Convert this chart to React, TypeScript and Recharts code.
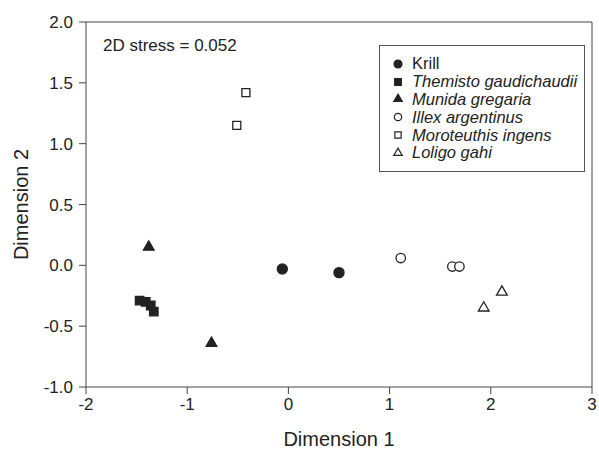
import { ScatterChart, Scatter, XAxis, YAxis, ReferenceLine, Legend, Label, Symbols, Customized } from 'recharts'

// MDS ordination
const krillX = [-0.06, 0.5]
const krillY = [-0.03, -0.06]
const themistoX = [-1.47, -1.41, -1.36, -1.33]
const themistoY = [-0.29, -0.3, -0.33, -0.38]
const munidaX = [-1.38, -0.76]
const munidaY = [0.15, -0.64]
const illexX = [1.11, 1.62, 1.69]
const illexY = [0.06, -0.01, -0.01]
const moroX = [-0.42, -0.51]
const moroY = [1.42, 1.15]
const loligoX = [2.11, 1.93]
const loligoY = [-0.22, -0.35]

const xTicks = [-2, -1, 0, 1, 2, 3]
const yTicks = [-1, -0.5, 0, 0.5, 1, 1.5, 2]
const stressText = '2D stress = 0.052'

const INK = '#222'

const zip = (xs: number[], ys: number[]) => xs.map((x, i) => ({ x, y: ys[i] }))

const species = [
  { name: 'Krill', data: zip(krillX, krillY), type: 'circle', filled: true, italic: false, size: 80 },
  { name: 'Themisto gaudichaudii', data: zip(themistoX, themistoY), type: 'square', filled: true, italic: true, size: 72 },
  { name: 'Munida gregaria', data: zip(munidaX, munidaY), type: 'triangle', filled: true, italic: true, size: 50 },
  { name: 'Illex argentinus', data: zip(illexX, illexY), type: 'circle', filled: false, italic: true, size: 70 },
  { name: 'Moroteuthis ingens', data: zip(moroX, moroY), type: 'square', filled: false, italic: true, size: 64 },
  { name: 'Loligo gahi', data: zip(loligoX, loligoY), type: 'triangle', filled: false, italic: true, size: 50 },
]

function marker(type: any, filled: boolean, size: number) {
  return (props: any) => (
    <Symbols
      cx={props.cx}
      cy={props.cy}
      type={type}
      size={size}
      fill={filled ? INK : '#fff'}
      stroke={INK}
      strokeWidth={1.3}
    />
  )
}

function LegendBox() {
  return (
    <div style={{ border: '1px solid #555', width: 206, height: 127, boxSizing: 'border-box', padding: '9px 0 0 10px', background: '#fff' }}>
      {species.map((s) => (
        <div key={s.name} style={{ display: 'flex', alignItems: 'center', height: 17.8, fontSize: 16.5, color: INK }}>
          <svg width={16} height={14} style={{ marginRight: 6 }}>
            <Symbols cx={8} cy={7} type={s.type as any} size={s.size * 0.62} fill={s.filled ? INK : '#fff'} stroke={INK} strokeWidth={1.2} />
          </svg>
          <span style={{ fontStyle: s.italic ? 'italic' : 'normal' }}>{s.name}</span>
        </div>
      ))}
    </div>
  )
}

export default function App() {
  return (
    <div style={{ position: 'absolute', left: 0, top: 0, width: 599, height: 450, background: '#fff', fontFamily: '"Liberation Sans", Arial, sans-serif' }}>
      <ScatterChart width={599} height={450} margin={{ top: 22, right: 7, bottom: 0, left: 0 }}>
        <XAxis
          type="number"
          dataKey="x"
          domain={[-2, 3]}
          ticks={xTicks}
          tickSize={7}
          tickMargin={4}
          height={63}
          stroke="#444"
          tick={{ fill: INK, fontSize: 17 }}
        >
          <Label value="Dimension 1" position="insideBottom" offset={4} style={{ fontSize: 20, fill: INK }} />
        </XAxis>
        <YAxis
          type="number"
          dataKey="y"
          domain={[-1, 2]}
          ticks={yTicks}
          tickFormatter={(v: number) => v.toFixed(1)}
          tickSize={7}
          tickMargin={6}
          width={86}
          stroke="#444"
          tick={{ fill: INK, fontSize: 17 }}
        >
          <Label value="Dimension 2" angle={-90} position="insideLeft" offset={21} style={{ fontSize: 20, fill: INK, textAnchor: 'middle' }} />
        </YAxis>
        <ReferenceLine y={2} stroke="#444" />
        <ReferenceLine x={3} stroke="#444" />
        {species.map((s) => (
          <Scatter
            key={s.name}
            name={s.name}
            data={s.data}
            shape={marker(s.type, s.filled, s.size)}
            isAnimationActive={false}
          />
        ))}
        <Legend
          layout="vertical"
          align="center"
          verticalAlign="middle"
          wrapperStyle={{ top: 45, left: 379, width: 206 }}
          content={() => <LegendBox />}
        />
        <Customized
          component={() => (
            <text x={103} y={51} fontSize={17} fill={INK}>
              {stressText}
            </text>
          )}
        />
      </ScatterChart>
    </div>
  )
}
